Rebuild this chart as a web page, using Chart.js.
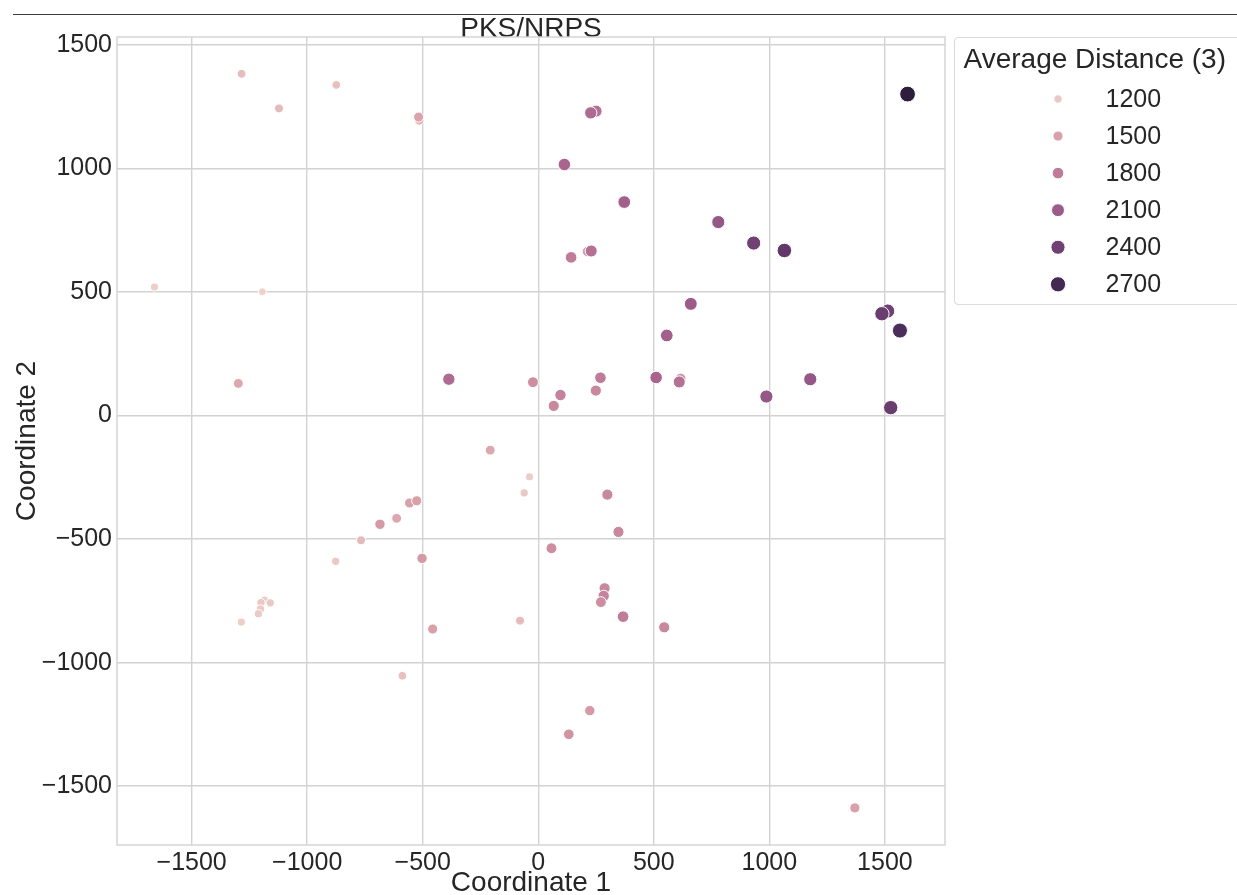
<!DOCTYPE html>
<html>
<head>
<meta charset="utf-8">
<title>PKS/NRPS</title>
<script src="https://cdn.jsdelivr.net/npm/chart.js@4.4.1/dist/chart.umd.min.js"></script>
<style>
  html, body { margin: 0; padding: 0; background: #fff; }
  #wrap { width: 1237px; height: 895px; }
</style>
</head>
<body>
<div id="wrap"><canvas id="chart" width="1237" height="895"></canvas></div>
<script>
// MDS coordinates and average distance (hue + size)
var coord1 = [-1284, -1122, -874, -515, -518, 250, 227, 113, 372, 213, 229, 142,
  -1661, -1194, 779, 932, 1065, 1598, 660, 1512, 1487, 1565, 556,
  -1298, -387, -23, 96, 67, 249, 269, 510, 616, 610, 1177, 987, 1525,
  -208, -38, -61, 299, 347, 57, -557, -526, -613, -685, -767, -877, -503,
  287, 283, 271, 367, 545, -79, -457,
  -1185, -1200, -1160, -1202, -1211, -1285, -588, 223, 132, 1370];
var coord2 = [1383, 1243, 1338, 1194, 1208, 1232, 1225, 1016, 864, 664, 666, 640,
  520, 501, 783, 698, 668, 1301, 452, 423, 412, 344, 324,
  130, 147, 135, 83, 39, 101, 153, 154, 150, 136, 147, 77, 32,
  -140, -248, -313, -320, -471, -537, -354, -345, -416, -440, -505, -590, -578,
  -699, -730, -755, -814, -857, -830, -864,
  -747, -757, -758, -783, -802, -836, -1053, -1194, -1290, -1588];
var avgDistance = [1280, 1300, 1250, 1350, 1480, 1900, 1950, 2000, 2050, 1550, 1900, 1800,
  1150, 1130, 2150, 2400, 2500, 2850, 2100, 2400, 2450, 2650, 2050,
  1450, 1950, 1650, 1750, 1700, 1700, 1800, 2000, 1600, 1900, 2150, 2150, 2450,
  1450, 1150, 1200, 1700, 1700, 1650, 1500, 1500, 1450, 1550, 1300, 1200, 1550,
  1700, 1750, 1650, 1800, 1700, 1300, 1500,
  1150, 1200, 1200, 1180, 1180, 1150, 1250, 1550, 1600, 1500];

var tickValues = [-1500, -1000, -500, 0, 500, 1000, 1500];
var legendValues = [1200, 1500, 1800, 2100, 2400, 2700];

var textColor = '#262626';
var gridColor = '#d2d2d2';
var fontFamily = '"Liberation Sans", Arial, Helvetica, sans-serif';

var hueMin = Math.min.apply(null, avgDistance);
var hueMax = Math.max.apply(null, avgDistance);

// seaborn default cubehelix palette (light .85 -> dark .15)
function colorFor(v) {
  var t = (v - hueMin) / (hueMax - hueMin);
  var x = 0.85 - 0.7 * t;
  var a = 0.8 * x * (1 - x) / 2;
  var phi = 2 * Math.PI * (0.4 * x);
  var c = Math.cos(phi), s = Math.sin(phi);
  var rgb = [
    x + a * (-0.14861 * c + 1.78277 * s),
    x + a * (-0.29227 * c - 0.90649 * s),
    x + a * (1.97294 * c)
  ];
  return 'rgb(' + rgb.map(function (u) {
    return Math.round(Math.max(0, Math.min(1, u)) * 255);
  }).join(',') + ')';
}

// marker area grows linearly with the value
function radiusFor(v) {
  var t = (v - hueMin) / (hueMax - hueMin);
  return 7.9 * Math.sqrt(0.25 + 0.75 * t);
}

function formatTick(v) {
  return (v < 0 ? '\u2212' : '') + Math.abs(v);
}

var points = coord1.map(function (x, i) { return { x: x, y: coord2[i] }; });
var colors = avgDistance.map(colorFor);
var radii = avgDistance.map(radiusFor);

var decorPlugin = {
  id: 'decor',
  beforeDraw: function (chart) {
    var ctx = chart.ctx;
    ctx.save();
    ctx.strokeStyle = '#3a3a3a';
    ctx.lineWidth = 1.2;
    ctx.beginPath();
    ctx.moveTo(13, 14.5);
    ctx.lineTo(chart.width, 14.5);
    ctx.stroke();
    ctx.restore();
  },
  beforeDatasetsDraw: function (chart) {
    var a = chart.chartArea;
    var ctx = chart.ctx;
    ctx.save();
    ctx.strokeStyle = gridColor;
    ctx.lineWidth = 1.4;
    ctx.strokeRect(a.left, a.top, a.right - a.left, a.bottom - a.top);
    ctx.restore();
  },
  afterDraw: function (chart) {
    var a = chart.chartArea;
    var ctx = chart.ctx;
    var bx = a.right + 9.5, by = a.top + 0.5;
    ctx.save();
    ctx.fillStyle = '#fff';
    ctx.strokeStyle = '#dcdcdc';
    ctx.lineWidth = 1.2;
    ctx.beginPath();
    ctx.roundRect(bx, by, 320, 267, 4);
    ctx.fill();
    ctx.stroke();

    ctx.fillStyle = textColor;
    ctx.textBaseline = 'middle';
    ctx.textAlign = 'left';
    ctx.font = '28px ' + fontFamily;
    ctx.fillText('Average Distance (3)', bx + 9, by + 23);

    ctx.font = '25px ' + fontFamily;
    legendValues.forEach(function (v, i) {
      var cy = by + 61.5 + i * 37.06;
      ctx.beginPath();
      ctx.arc(bx + 103.5, cy, radiusFor(v), 0, Math.PI * 2);
      ctx.fillStyle = colorFor(v);
      ctx.fill();
      ctx.strokeStyle = '#fff';
      ctx.lineWidth = 1;
      ctx.stroke();
      ctx.fillStyle = textColor;
      ctx.fillText(String(v), bx + 151, cy + 1);
    });
    ctx.restore();
  }
};

var ctx = document.getElementById('chart').getContext('2d');
new Chart(ctx, {
  type: 'scatter',
  data: {
    datasets: [{
      label: 'Average Distance (3)',
      data: points,
      pointBackgroundColor: colors,
      pointBorderColor: '#ffffff',
      pointBorderWidth: 1,
      pointRadius: radii,
      pointHoverRadius: radii
    }]
  },
  options: {
    responsive: false,
    animation: false,
    devicePixelRatio: 1,
    font: { family: fontFamily },
    layout: { padding: { left: 0, right: 292, top: 0, bottom: 0 } },
    plugins: {
      legend: { display: false },
      tooltip: { enabled: false },
      title: {
        display: true,
        text: 'PKS/NRPS',
        fullSize: false,
        color: textColor,
        font: { family: fontFamily, size: 28, weight: 'normal', lineHeight: 1 },
        padding: { top: 15, bottom: -6 }
      }
    },
    scales: {
      x: {
        type: 'linear',
        min: -1823,
        max: 1760,
        afterBuildTicks: function (s) { s.ticks = tickValues.map(function (v) { return { value: v }; }); },
        afterFit: function (s) { s.height = 50; },
        grid: { color: gridColor, lineWidth: 1.4, drawTicks: false },
        border: { display: false },
        ticks: { color: textColor, padding: 3, font: { family: fontFamily, size: 25 }, callback: formatTick, maxRotation: 0 },
        title: {
          display: true,
          text: 'Coordinate 1',
          color: textColor,
          font: { family: fontFamily, size: 28, lineHeight: 1 },
          padding: { top: 0, bottom: -2 }
        }
      },
      y: {
        type: 'linear',
        min: -1738,
        max: 1532,
        afterBuildTicks: function (s) { s.ticks = tickValues.map(function (v) { return { value: v }; }); },
        afterFit: function (s) { s.width = 117; },
        grid: { color: gridColor, lineWidth: 1.4, drawTicks: false },
        border: { display: false },
        ticks: { color: textColor, padding: 5, font: { family: fontFamily, size: 25 }, callback: formatTick },
        title: {
          display: true,
          text: 'Coordinate 2',
          color: textColor,
          font: { family: fontFamily, size: 28, lineHeight: 1 },
          padding: { top: 13, bottom: 0 }
        }
      }
    }
  },
  plugins: [decorPlugin]
});
</script>
</body>
</html>
